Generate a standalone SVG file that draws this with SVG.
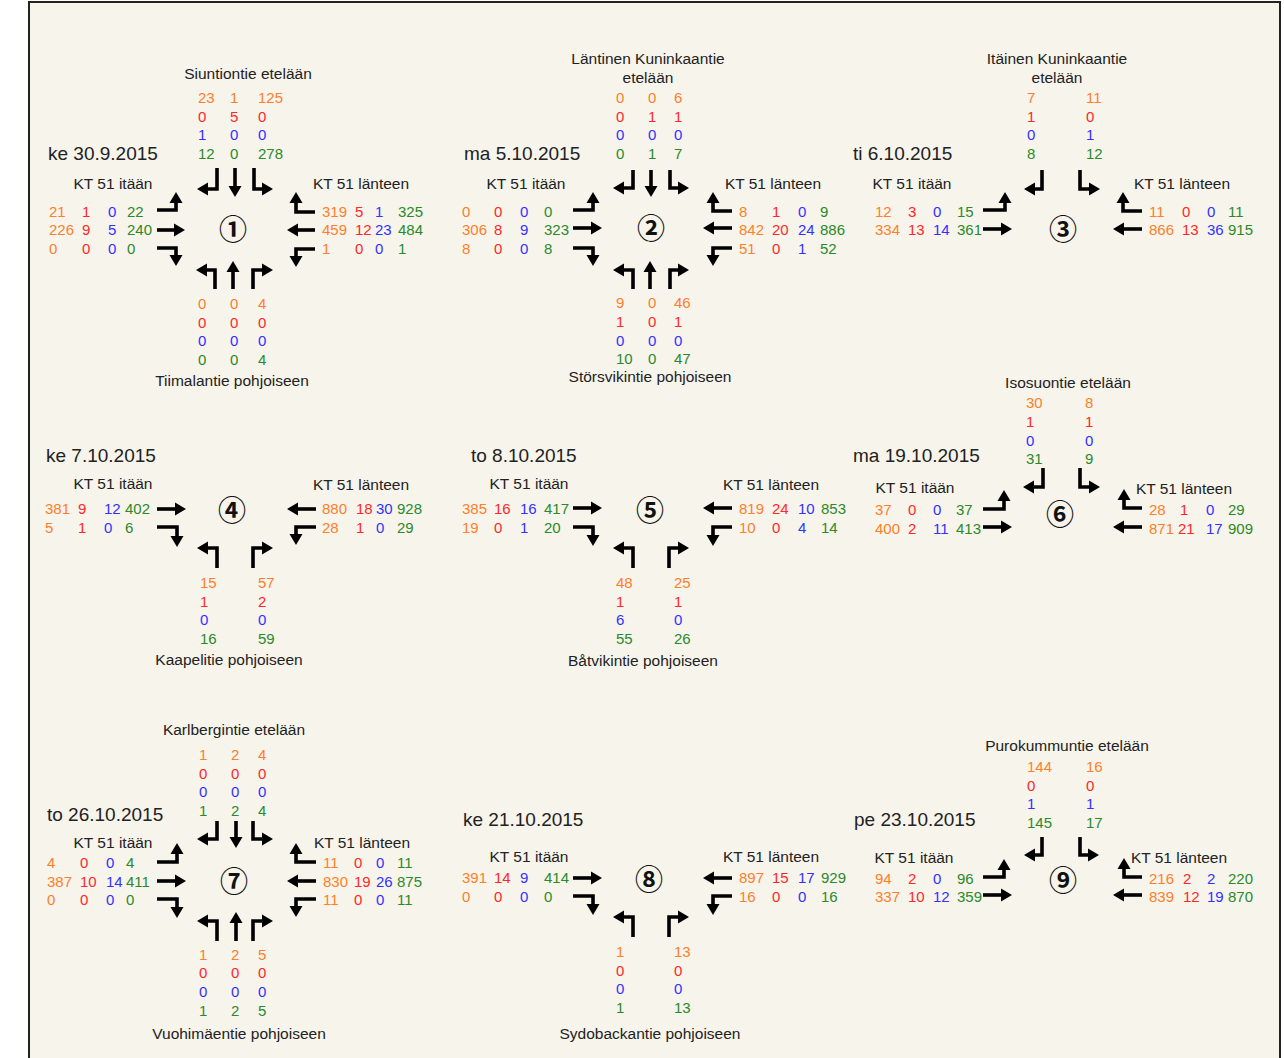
<svg xmlns="http://www.w3.org/2000/svg" width="1284" height="1058" viewBox="0 0 1284 1058">
<style>
text{font-family:"Liberation Sans",Arial,sans-serif;}
.n{font-size:15px;}
.o{fill:#ff7f2a;}
.r{fill:#ff2828;}
.b{fill:#3232ff;}
.g{fill:#2a8a2a;}
.l{font-size:15.5px;fill:#222;text-anchor:middle;}
.d{font-size:19px;fill:#222;}
.c{font-family:"Noto Sans CJK JP","DejaVu Sans",sans-serif;font-size:28px;font-weight:bold;fill:#111;text-anchor:middle;}
.a{fill:none;stroke:#000;stroke-width:3.6;stroke-linejoin:miter;marker-end:url(#ah);}
</style>
<defs>
<marker id="ah" markerUnits="userSpaceOnUse" markerWidth="12" markerHeight="14" viewBox="-1 -7 12 14" refX="0" refY="0" orient="auto"><path d="M-1,-6.5 L10,0 L-1,6.5 z" fill="#000"/></marker>
</defs>
<rect x="0" y="0" width="1284" height="1058" fill="#fff"/>
<rect x="29" y="2" width="1251" height="1080" fill="#f7f4ec" stroke="#222" stroke-width="2"/>

<g id="connectors">
<g id="arrows1">
<polyline class="a" points="217,168 217,189 207,189"/>
<polyline class="a" points="235,168 235,187"/>
<polyline class="a" points="254,168 254,189 263,189"/>
<polyline class="a" points="157,210 176,210 176,202"/>
<polyline class="a" points="157,230 175,230"/>
<polyline class="a" points="157,248 176,248 176,256"/>
<polyline class="a" points="315,212 296,212 296,202"/>
<polyline class="a" points="315,230 297,230"/>
<polyline class="a" points="315,249 296,249 296,257"/>
<polyline class="a" points="215,289 215,270 206,270"/>
<polyline class="a" points="233,289 233,271"/>
<polyline class="a" points="253,289 253,270 263,270"/>
</g>
<g id="arrows2">
<polyline class="a" points="633,170 633,188 623,188"/>
<polyline class="a" points="651,170 651,187"/>
<polyline class="a" points="670,170 670,188 679,188"/>
<polyline class="a" points="573,210 593,210 593,202"/>
<polyline class="a" points="573,228 592,228"/>
<polyline class="a" points="573,248 593,248 593,256"/>
<polyline class="a" points="732,211 713,211 713,202"/>
<polyline class="a" points="732,228 713,228"/>
<polyline class="a" points="732,248 713,248 713,256"/>
<polyline class="a" points="633,289 633,270 623,270"/>
<polyline class="a" points="650,289 650,271"/>
<polyline class="a" points="670,289 670,270 679,270"/>
</g>
<g id="arrows3">
<polyline class="a" points="1042,170 1042,189 1034,189"/>
<polyline class="a" points="1080,170 1080,189 1090,189"/>
<polyline class="a" points="983,210 1005,210 1005,202"/>
<polyline class="a" points="983,229 1002,229"/>
<polyline class="a" points="1142,211 1123,211 1123,202"/>
<polyline class="a" points="1142,229 1123,229"/>
</g>
<g id="arrows4">
<polyline class="a" points="157,509 176,509"/>
<polyline class="a" points="157,527 177,527 177,537"/>
<polyline class="a" points="316,509 297,509"/>
<polyline class="a" points="316,527 296,527 296,535"/>
<polyline class="a" points="217,568 217,548 207,548"/>
<polyline class="a" points="253,568 253,548 263,548"/>
</g>
<g id="arrows5">
<polyline class="a" points="573,508 592,508"/>
<polyline class="a" points="573,527 593,527 593,536"/>
<polyline class="a" points="732,508 713,508"/>
<polyline class="a" points="732,527 713,527 713,536"/>
<polyline class="a" points="633,568 633,548 623,548"/>
<polyline class="a" points="669,568 669,548 679,548"/>
</g>
<g id="arrows6">
<polyline class="a" points="1043,468 1043,487 1033,487"/>
<polyline class="a" points="1080,468 1080,487 1090,487"/>
<polyline class="a" points="983,509 1004,509 1004,500"/>
<polyline class="a" points="983,527 1002,527"/>
<polyline class="a" points="1142,508 1124,508 1124,499"/>
<polyline class="a" points="1142,527 1123,527"/>
</g>
<g id="arrows7">
<polyline class="a" points="217,821 217,839 207,839"/>
<polyline class="a" points="236,821 236,838"/>
<polyline class="a" points="253,821 253,839 263,839"/>
<polyline class="a" points="157,862 177,862 177,853"/>
<polyline class="a" points="157,881 176,881"/>
<polyline class="a" points="157,899 177,899 177,908"/>
<polyline class="a" points="316,862 296,862 296,853"/>
<polyline class="a" points="316,881 297,881"/>
<polyline class="a" points="316,899 296,899 296,907"/>
<polyline class="a" points="217,941 217,921 207,921"/>
<polyline class="a" points="236,941 236,922"/>
<polyline class="a" points="253,941 253,921 263,921"/>
</g>
<g id="arrows8">
<polyline class="a" points="573,878 592,878"/>
<polyline class="a" points="573,896 593,896 593,905"/>
<polyline class="a" points="732,878 713,878"/>
<polyline class="a" points="732,896 713,896 713,905"/>
<polyline class="a" points="633,937 633,917 623,917"/>
<polyline class="a" points="669,937 669,917 679,917"/>
</g>
<g id="arrows9">
<polyline class="a" points="1042,837 1042,855 1034,855"/>
<polyline class="a" points="1080,837 1080,855 1089,855"/>
<polyline class="a" points="983,877 1004,877 1004,869"/>
<polyline class="a" points="983,895 1002,895"/>
<polyline class="a" points="1142,877 1124,877 1124,868"/>
<polyline class="a" points="1142,895 1123,895"/>
</g>
</g>

<g id="int1">
<text class="d" x="48" y="160">ke 30.9.2015</text>
<text class="c" x="233" y="239.5">①</text>
<text class="l" x="248" y="79">Siuntiontie etelään</text>
<text class="n o" y="103"><tspan x="198">23</tspan><tspan x="230">1</tspan><tspan x="258">125</tspan></text>
<text class="n r" y="122"><tspan x="198">0</tspan><tspan x="230">5</tspan><tspan x="258">0</tspan></text>
<text class="n b" y="140"><tspan x="198">1</tspan><tspan x="230">0</tspan><tspan x="258">0</tspan></text>
<text class="n g" y="159"><tspan x="198">12</tspan><tspan x="230">0</tspan><tspan x="258">278</tspan></text>
<text class="l" x="113" y="189">KT 51 itään</text>
<text class="l" x="361" y="189">KT 51 länteen</text>
<text class="n" y="217"><tspan class="o" x="49">21</tspan><tspan class="r" x="82">1</tspan><tspan class="b" x="108">0</tspan><tspan class="g" x="127">22</tspan></text>
<text class="n" y="235"><tspan class="o" x="49">226</tspan><tspan class="r" x="82">9</tspan><tspan class="b" x="108">5</tspan><tspan class="g" x="127">240</tspan></text>
<text class="n" y="254"><tspan class="o" x="49">0</tspan><tspan class="r" x="82">0</tspan><tspan class="b" x="108">0</tspan><tspan class="g" x="127">0</tspan></text>
<text class="n" y="217"><tspan class="o" x="322">319</tspan><tspan class="r" x="355">5</tspan><tspan class="b" x="375">1</tspan><tspan class="g" x="398">325</tspan></text>
<text class="n" y="235"><tspan class="o" x="322">459</tspan><tspan class="r" x="355">12</tspan><tspan class="b" x="375">23</tspan><tspan class="g" x="398">484</tspan></text>
<text class="n" y="254"><tspan class="o" x="322">1</tspan><tspan class="r" x="355">0</tspan><tspan class="b" x="375">0</tspan><tspan class="g" x="398">1</tspan></text>
<text class="n o" y="309"><tspan x="198">0</tspan><tspan x="230">0</tspan><tspan x="258">4</tspan></text>
<text class="n r" y="328"><tspan x="198">0</tspan><tspan x="230">0</tspan><tspan x="258">0</tspan></text>
<text class="n b" y="346"><tspan x="198">0</tspan><tspan x="230">0</tspan><tspan x="258">0</tspan></text>
<text class="n g" y="365"><tspan x="198">0</tspan><tspan x="230">0</tspan><tspan x="258">4</tspan></text>
<text class="l" x="232" y="386">Tiimalantie pohjoiseen</text>
</g>

<g id="int2">
<text class="d" x="464" y="160">ma 5.10.2015</text>
<text class="c" x="651" y="238.5">②</text>
<text class="l" x="648" y="64">Läntinen Kuninkaantie</text>
<text class="l" x="648" y="83">etelään</text>
<text class="n o" y="103"><tspan x="616">0</tspan><tspan x="648">0</tspan><tspan x="674">6</tspan></text>
<text class="n r" y="122"><tspan x="616">0</tspan><tspan x="648">1</tspan><tspan x="674">1</tspan></text>
<text class="n b" y="140"><tspan x="616">0</tspan><tspan x="648">0</tspan><tspan x="674">0</tspan></text>
<text class="n g" y="159"><tspan x="616">0</tspan><tspan x="648">1</tspan><tspan x="674">7</tspan></text>
<text class="l" x="526" y="189">KT 51 itään</text>
<text class="l" x="773" y="189">KT 51 länteen</text>
<text class="n" y="217"><tspan class="o" x="462">0</tspan><tspan class="r" x="494">0</tspan><tspan class="b" x="520">0</tspan><tspan class="g" x="544">0</tspan></text>
<text class="n" y="235"><tspan class="o" x="462">306</tspan><tspan class="r" x="494">8</tspan><tspan class="b" x="520">9</tspan><tspan class="g" x="544">323</tspan></text>
<text class="n" y="254"><tspan class="o" x="462">8</tspan><tspan class="r" x="494">0</tspan><tspan class="b" x="520">0</tspan><tspan class="g" x="544">8</tspan></text>
<text class="n" y="217"><tspan class="o" x="739">8</tspan><tspan class="r" x="772">1</tspan><tspan class="b" x="798">0</tspan><tspan class="g" x="820">9</tspan></text>
<text class="n" y="235"><tspan class="o" x="739">842</tspan><tspan class="r" x="772">20</tspan><tspan class="b" x="798">24</tspan><tspan class="g" x="820">886</tspan></text>
<text class="n" y="254"><tspan class="o" x="739">51</tspan><tspan class="r" x="772">0</tspan><tspan class="b" x="798">1</tspan><tspan class="g" x="820">52</tspan></text>
<text class="n o" y="308"><tspan x="616">9</tspan><tspan x="648">0</tspan><tspan x="674">46</tspan></text>
<text class="n r" y="327"><tspan x="616">1</tspan><tspan x="648">0</tspan><tspan x="674">1</tspan></text>
<text class="n b" y="346"><tspan x="616">0</tspan><tspan x="648">0</tspan><tspan x="674">0</tspan></text>
<text class="n g" y="364"><tspan x="616">10</tspan><tspan x="648">0</tspan><tspan x="674">47</tspan></text>
<text class="l" x="650" y="382">Störsvikintie pohjoiseen</text>
</g>

<g id="int3">
<text class="d" x="853" y="160">ti 6.10.2015</text>
<text class="c" x="1063" y="239.5">③</text>
<text class="l" x="1057" y="64">Itäinen Kuninkaantie</text>
<text class="l" x="1057" y="83">etelään</text>
<text class="n o" y="103"><tspan x="1027">7</tspan><tspan x="1086">11</tspan></text>
<text class="n r" y="122"><tspan x="1027">1</tspan><tspan x="1086">0</tspan></text>
<text class="n b" y="140"><tspan x="1027">0</tspan><tspan x="1086">1</tspan></text>
<text class="n g" y="159"><tspan x="1027">8</tspan><tspan x="1086">12</tspan></text>
<text class="l" x="912" y="189">KT 51 itään</text>
<text class="l" x="1182" y="189">KT 51 länteen</text>
<text class="n" y="217"><tspan class="o" x="875">12</tspan><tspan class="r" x="908">3</tspan><tspan class="b" x="933">0</tspan><tspan class="g" x="957">15</tspan></text>
<text class="n" y="235"><tspan class="o" x="875">334</tspan><tspan class="r" x="908">13</tspan><tspan class="b" x="933">14</tspan><tspan class="g" x="957">361</tspan></text>
<text class="n" y="217"><tspan class="o" x="1149">11</tspan><tspan class="r" x="1182">0</tspan><tspan class="b" x="1207">0</tspan><tspan class="g" x="1228">11</tspan></text>
<text class="n" y="235"><tspan class="o" x="1149">866</tspan><tspan class="r" x="1182">13</tspan><tspan class="b" x="1207">36</tspan><tspan class="g" x="1228">915</tspan></text>
</g>

<g id="int4">
<text class="d" x="46" y="462">ke 7.10.2015</text>
<text class="c" x="232" y="520.5">④</text>
<text class="l" x="113" y="489">KT 51 itään</text>
<text class="l" x="361" y="490">KT 51 länteen</text>
<text class="n" y="514"><tspan class="o" x="45">381</tspan><tspan class="r" x="78">9</tspan><tspan class="b" x="104">12</tspan><tspan class="g" x="125">402</tspan></text>
<text class="n" y="533"><tspan class="o" x="45">5</tspan><tspan class="r" x="78">1</tspan><tspan class="b" x="104">0</tspan><tspan class="g" x="125">6</tspan></text>
<text class="n" y="514"><tspan class="o" x="322">880</tspan><tspan class="r" x="356">18</tspan><tspan class="b" x="376">30</tspan><tspan class="g" x="397">928</tspan></text>
<text class="n" y="533"><tspan class="o" x="322">28</tspan><tspan class="r" x="356">1</tspan><tspan class="b" x="376">0</tspan><tspan class="g" x="397">29</tspan></text>
<text class="n o" y="588"><tspan x="200">15</tspan><tspan x="258">57</tspan></text>
<text class="n r" y="607"><tspan x="200">1</tspan><tspan x="258">2</tspan></text>
<text class="n b" y="625"><tspan x="200">0</tspan><tspan x="258">0</tspan></text>
<text class="n g" y="644"><tspan x="200">16</tspan><tspan x="258">59</tspan></text>
<text class="l" x="229" y="665">Kaapelitie pohjoiseen</text>
</g>

<g id="int5">
<text class="d" x="471" y="462">to 8.10.2015</text>
<text class="c" x="650" y="520.5">⑤</text>
<text class="l" x="529" y="489">KT 51 itään</text>
<text class="l" x="771" y="490">KT 51 länteen</text>
<text class="n" y="514"><tspan class="o" x="462">385</tspan><tspan class="r" x="494">16</tspan><tspan class="b" x="520">16</tspan><tspan class="g" x="544">417</tspan></text>
<text class="n" y="533"><tspan class="o" x="462">19</tspan><tspan class="r" x="494">0</tspan><tspan class="b" x="520">1</tspan><tspan class="g" x="544">20</tspan></text>
<text class="n" y="514"><tspan class="o" x="739">819</tspan><tspan class="r" x="772">24</tspan><tspan class="b" x="798">10</tspan><tspan class="g" x="821">853</tspan></text>
<text class="n" y="533"><tspan class="o" x="739">10</tspan><tspan class="r" x="772">0</tspan><tspan class="b" x="798">4</tspan><tspan class="g" x="821">14</tspan></text>
<text class="n o" y="588"><tspan x="616">48</tspan><tspan x="674">25</tspan></text>
<text class="n r" y="607"><tspan x="616">1</tspan><tspan x="674">1</tspan></text>
<text class="n b" y="625"><tspan x="616">6</tspan><tspan x="674">0</tspan></text>
<text class="n g" y="644"><tspan x="616">55</tspan><tspan x="674">26</tspan></text>
<text class="l" x="643" y="666">Båtvikintie pohjoiseen</text>
</g>

<g id="int6">
<text class="d" x="853" y="462">ma 19.10.2015</text>
<text class="c" x="1060" y="524.5">⑥</text>
<text class="l" x="1068" y="388">Isosuontie etelään</text>
<text class="n o" y="408"><tspan x="1026">30</tspan><tspan x="1085">8</tspan></text>
<text class="n r" y="427"><tspan x="1026">1</tspan><tspan x="1085">1</tspan></text>
<text class="n b" y="446"><tspan x="1026">0</tspan><tspan x="1085">0</tspan></text>
<text class="n g" y="464"><tspan x="1026">31</tspan><tspan x="1085">9</tspan></text>
<text class="l" x="915" y="493">KT 51 itään</text>
<text class="l" x="1184" y="494">KT 51 länteen</text>
<text class="n" y="515"><tspan class="o" x="875">37</tspan><tspan class="r" x="908">0</tspan><tspan class="b" x="933">0</tspan><tspan class="g" x="956">37</tspan></text>
<text class="n" y="534"><tspan class="o" x="875">400</tspan><tspan class="r" x="908">2</tspan><tspan class="b" x="933">11</tspan><tspan class="g" x="956">413</tspan></text>
<text class="n" y="515"><tspan class="o" x="1149">28</tspan><tspan class="r" x="1180">1</tspan><tspan class="b" x="1206">0</tspan><tspan class="g" x="1228">29</tspan></text>
<text class="n" y="534"><tspan class="o" x="1149">871</tspan><tspan class="r" x="1178">21</tspan><tspan class="b" x="1206">17</tspan><tspan class="g" x="1228">909</tspan></text>
</g>

<g id="int7">
<text class="d" x="47" y="821">to 26.10.2015</text>
<text class="c" x="234" y="891.5">⑦</text>
<text class="l" x="234" y="735">Karlbergintie etelään</text>
<text class="n o" y="760"><tspan x="199">1</tspan><tspan x="231">2</tspan><tspan x="258">4</tspan></text>
<text class="n r" y="779"><tspan x="199">0</tspan><tspan x="231">0</tspan><tspan x="258">0</tspan></text>
<text class="n b" y="797"><tspan x="199">0</tspan><tspan x="231">0</tspan><tspan x="258">0</tspan></text>
<text class="n g" y="816"><tspan x="199">1</tspan><tspan x="231">2</tspan><tspan x="258">4</tspan></text>
<text class="l" x="113" y="848">KT 51 itään</text>
<text class="l" x="362" y="848">KT 51 länteen</text>
<text class="n" y="868"><tspan class="o" x="47">4</tspan><tspan class="r" x="80">0</tspan><tspan class="b" x="106">0</tspan><tspan class="g" x="126">4</tspan></text>
<text class="n" y="887"><tspan class="o" x="47">387</tspan><tspan class="r" x="80">10</tspan><tspan class="b" x="106">14</tspan><tspan class="g" x="126">411</tspan></text>
<text class="n" y="905"><tspan class="o" x="47">0</tspan><tspan class="r" x="80">0</tspan><tspan class="b" x="106">0</tspan><tspan class="g" x="126">0</tspan></text>
<text class="n" y="868"><tspan class="o" x="323">11</tspan><tspan class="r" x="354">0</tspan><tspan class="b" x="376">0</tspan><tspan class="g" x="397">11</tspan></text>
<text class="n" y="887"><tspan class="o" x="323">830</tspan><tspan class="r" x="354">19</tspan><tspan class="b" x="376">26</tspan><tspan class="g" x="397">875</tspan></text>
<text class="n" y="905"><tspan class="o" x="323">11</tspan><tspan class="r" x="354">0</tspan><tspan class="b" x="376">0</tspan><tspan class="g" x="397">11</tspan></text>
<text class="n o" y="960"><tspan x="199">1</tspan><tspan x="231">2</tspan><tspan x="258">5</tspan></text>
<text class="n r" y="978"><tspan x="199">0</tspan><tspan x="231">0</tspan><tspan x="258">0</tspan></text>
<text class="n b" y="997"><tspan x="199">0</tspan><tspan x="231">0</tspan><tspan x="258">0</tspan></text>
<text class="n g" y="1016"><tspan x="199">1</tspan><tspan x="231">2</tspan><tspan x="258">5</tspan></text>
<text class="l" x="239" y="1039">Vuohimäentie pohjoiseen</text>
</g>

<g id="int8">
<text class="d" x="463" y="826">ke 21.10.2015</text>
<text class="c" x="649" y="889.5">⑧</text>
<text class="l" x="529" y="862">KT 51 itään</text>
<text class="l" x="771" y="862">KT 51 länteen</text>
<text class="n" y="883"><tspan class="o" x="462">391</tspan><tspan class="r" x="494">14</tspan><tspan class="b" x="520">9</tspan><tspan class="g" x="544">414</tspan></text>
<text class="n" y="902"><tspan class="o" x="462">0</tspan><tspan class="r" x="494">0</tspan><tspan class="b" x="520">0</tspan><tspan class="g" x="544">0</tspan></text>
<text class="n" y="883"><tspan class="o" x="739">897</tspan><tspan class="r" x="772">15</tspan><tspan class="b" x="798">17</tspan><tspan class="g" x="821">929</tspan></text>
<text class="n" y="902"><tspan class="o" x="739">16</tspan><tspan class="r" x="772">0</tspan><tspan class="b" x="798">0</tspan><tspan class="g" x="821">16</tspan></text>
<text class="n o" y="957"><tspan x="616">1</tspan><tspan x="674">13</tspan></text>
<text class="n r" y="976"><tspan x="616">0</tspan><tspan x="674">0</tspan></text>
<text class="n b" y="994"><tspan x="616">0</tspan><tspan x="674">0</tspan></text>
<text class="n g" y="1013"><tspan x="616">1</tspan><tspan x="674">13</tspan></text>
<text class="l" x="650" y="1039">Sydobackantie pohjoiseen</text>
</g>

<g id="int9">
<text class="d" x="854" y="826">pe 23.10.2015</text>
<text class="c" x="1063" y="890.5">⑨</text>
<text class="l" x="1067" y="751">Purokummuntie etelään</text>
<text class="n o" y="772"><tspan x="1027">144</tspan><tspan x="1086">16</tspan></text>
<text class="n r" y="791"><tspan x="1027">0</tspan><tspan x="1086">0</tspan></text>
<text class="n b" y="809"><tspan x="1027">1</tspan><tspan x="1086">1</tspan></text>
<text class="n g" y="828"><tspan x="1027">145</tspan><tspan x="1086">17</tspan></text>
<text class="l" x="914" y="863">KT 51 itään</text>
<text class="l" x="1179" y="863">KT 51 länteen</text>
<text class="n" y="884"><tspan class="o" x="875">94</tspan><tspan class="r" x="908">2</tspan><tspan class="b" x="933">0</tspan><tspan class="g" x="957">96</tspan></text>
<text class="n" y="902"><tspan class="o" x="875">337</tspan><tspan class="r" x="908">10</tspan><tspan class="b" x="933">12</tspan><tspan class="g" x="957">359</tspan></text>
<text class="n" y="884"><tspan class="o" x="1149">216</tspan><tspan class="r" x="1183">2</tspan><tspan class="b" x="1207">2</tspan><tspan class="g" x="1228">220</tspan></text>
<text class="n" y="902"><tspan class="o" x="1149">839</tspan><tspan class="r" x="1183">12</tspan><tspan class="b" x="1207">19</tspan><tspan class="g" x="1228">870</tspan></text>
</g>
</svg>
